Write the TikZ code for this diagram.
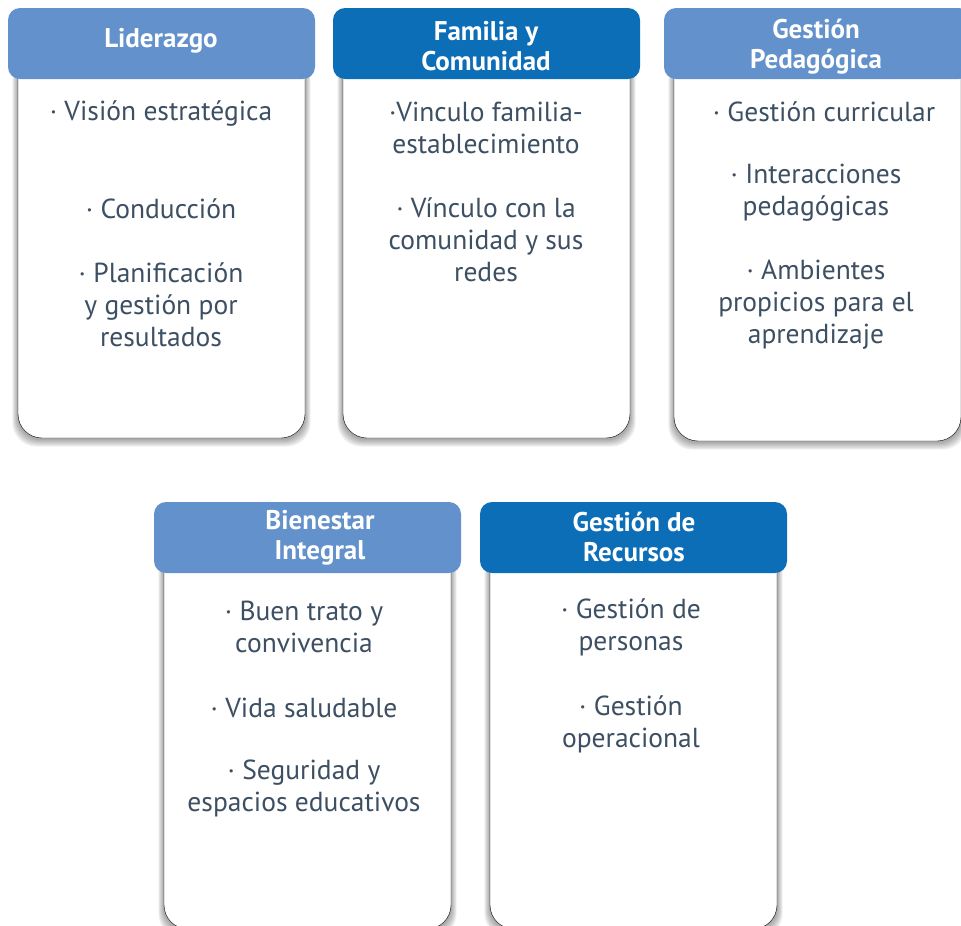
\documentclass[tikz,border=0pt]{standalone}
\usepackage{fontspec}
\setmainfont{PT Sans}
\definecolor{headlight}{HTML}{6391CB}
\definecolor{headdark}{HTML}{0D6EB8}
\definecolor{itemtext}{HTML}{3D4F63}
\tikzset{
  cardhead/.style={rounded corners=12pt},
  cardbody/.style={fill=white, rounded corners=24pt},
  headtext/.style={text=white, font=\fontsize{27}{30}\selectfont\bfseries, align=center},
  itemlist/.style={text=itemtext, font=\fontsize{27.5}{32}\selectfont, align=center}
}
% card: name, left x, top y, bottom y, header colour
\newcommand{\card}[5]{
  \foreach \s in {1,...,7}
    \fill[black, opacity=0.055, rounded corners=24pt] ({#2+10-\s*0.8},{#3+40}) rectangle ({#2+297+\s*0.8},{#4+1+\s*1.1});
  \draw[cardbody] (#2+10,#3+40) rectangle (#2+297,#4);
  \fill[cardhead, fill=#5] (#2,#3) rectangle (#2+307,#3+71) coordinate (#1);
}
\begin{document}
\begin{tikzpicture}[x=1pt, y=-1pt]
\useasboundingbox (0,0) rectangle (961,926);
\begin{scope}[local bounding box=toprow]
  \card{lid}{8}{8}{438}{headlight}
  \card{fam}{333}{8}{438}{headdark}
  \card{ped}{664}{8}{441}{headlight}
\end{scope}
\begin{scope}[local bounding box=bottomrow]
  \card{bie}{154}{502}{929}{headlight}
  \card{rec}{480}{502}{929}{headdark}
\end{scope}
% headers
\node[headtext] (lidhead) at (161,41) {Liderazgo};
\node[headtext] (famhead) at (486,46) {Familia y\\Comunidad};
\node[headtext] (pedhead) at (816,47) {Gestión\\Pedagógica};
\node[headtext] (biehead) at (320,538) {Bienestar\\Integral};
\node[headtext] (rechead) at (634,537) {Gestión de\\Recursos};
% items
\node[itemlist] (lid1) at (161,114) {· Visión estratégica};
\node[itemlist] (lid2) at (161,209) {· Conducción};
\node[itemlist] (lid3) at (161,305) {· Planificación\\y gestión por\\resultados};
\node[itemlist] (fam1) at (486,128) {·Vinculo familia-\\establecimiento};
\node[itemlist] (fam2) at (486,240) {· Vínculo con la\\comunidad y sus\\redes};
\node[itemlist] (ped1) at (824,112) {· Gestión curricular};
\node[itemlist] (ped2) at (816,193) {· Interacciones\\pedagógicas};
\node[itemlist] (ped3) at (816,305) {· Ambientes\\propicios para el\\aprendizaje};
\node[itemlist] (bie1) at (304,627) {· Buen trato y\\convivencia};
\node[itemlist] (bie2) at (304,708) {· Vida saludable};
\node[itemlist] (bie3) at (304,788) {· Seguridad y\\espacios educativos};
\node[itemlist] (rec1) at (631,627) {· Gestión de\\personas};
\node[itemlist] (rec2) at (631,724) {· Gestión\\operacional};
\end{tikzpicture}
\end{document}
